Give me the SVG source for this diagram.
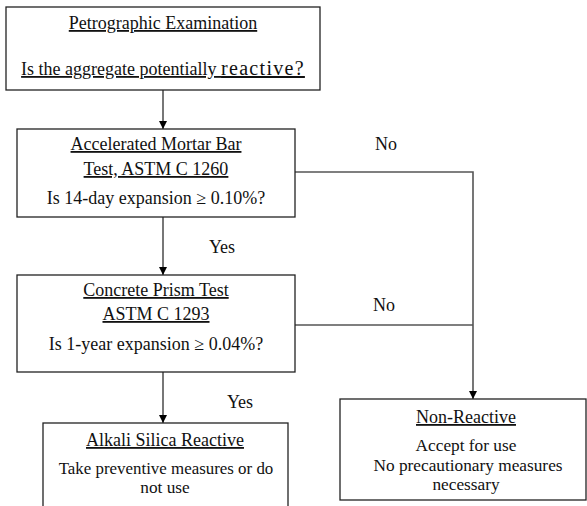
<svg xmlns="http://www.w3.org/2000/svg" width="587" height="506" viewBox="0 0 587 506">
<style>
.box{fill:#fff;stroke:#222;stroke-width:1.3}
.t{font-family:'Liberation Serif','Times New Roman','DejaVu Serif',serif;font-size:18px;fill:#111;text-anchor:middle}
.s{font-size:17.3px}
.xs{font-size:16.9px}
.u{text-decoration:underline}
.c{fill:none;stroke:#555;stroke-width:1.6}
</style>
<defs>
<marker id="ah" viewBox="0 0 10 10" refX="10" refY="5" markerWidth="8" markerHeight="8" markerUnits="userSpaceOnUse" orient="auto"><path d="M0,0 L10,5 L0,10 z" fill="#000"/></marker>
</defs>
<g id="connectors">
<line class="c" x1="163" y1="90" x2="163" y2="129" marker-end="url(#ah)"/>
<line class="c" x1="163" y1="217" x2="163" y2="275" marker-end="url(#ah)"/>
<line class="c" x1="163" y1="372" x2="163" y2="423" marker-end="url(#ah)"/>
<polyline class="c" points="295,172 473,172 473,399" marker-end="url(#ah)"/>
<line class="c" x1="295" y1="325" x2="473" y2="325"/>
<text class="t" x="386" y="150">No</text>
<text class="t" x="384" y="311">No</text>
<text class="t" x="222" y="253">Yes</text>
<text class="t" x="240" y="408">Yes</text>
</g>
<g id="petro">
<rect class="box" x="6" y="7" width="314" height="83"/>
<text class="t u" x="163" y="29">Petrographic Examination</text>
<text class="t u" x="163" y="75">Is the aggregate potentially <tspan font-size="20" letter-spacing="1.3">reactive?</tspan></text>
</g>
<g id="ambt">
<rect class="box" x="17" y="129" width="278" height="88"/>
<text class="t u" x="156" y="150">Accelerated Mortar Bar</text>
<text class="t u" x="156" y="175">Test, ASTM C 1260</text>
<text class="t" x="156" y="204">Is 14-day expansion ≥ 0.10%?</text>
</g>
<g id="cpt">
<rect class="box" x="17" y="275" width="278" height="97"/>
<text class="t u" x="156" y="296">Concrete Prism Test</text>
<text class="t u" x="156" y="320">ASTM C 1293</text>
<text class="t" x="156" y="350">Is 1-year expansion ≥ 0.04%?</text>
</g>
<g id="asr">
<rect class="box" x="43" y="423" width="245" height="100"/>
<text class="t u" x="165" y="446">Alkali Silica Reactive</text>
<text class="t xs" x="166" y="474">Take preventive measures or do</text>
<text class="t s" x="165" y="493">not use</text>
</g>
<g id="nonreactive">
<rect class="box" x="340" y="399" width="246" height="101"/>
<text class="t u" x="466" y="423">Non-Reactive</text>
<text class="t s" x="466" y="451">Accept for use</text>
<text class="t s" x="468" y="470.5">No precautionary measures</text>
<text class="t s" x="466" y="490">necessary</text>
</g>
</svg>
